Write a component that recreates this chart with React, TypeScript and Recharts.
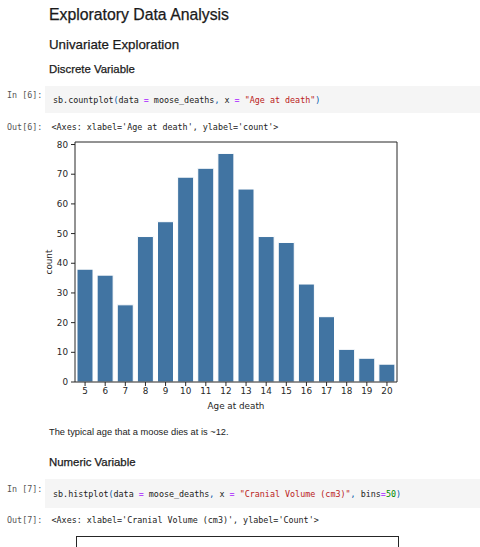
import { BarChart, Bar, XAxis, YAxis, CartesianGrid } from 'recharts';

const ages = ['5', '6', '7', '8', '9', '10', '11', '12', '13', '14', '15', '16', '17', '18', '19', '20'];
const counts = [38, 36, 26, 49, 54, 69, 72, 77, 65, 49, 47, 33, 22, 11, 8, 6];
const yTicks = [0, 10, 20, 30, 40, 50, 60, 70, 80];

const data = ages.map((age, i) => ({ age, count: counts[i] }));

const sans = '"Liberation Sans", Arial, Helvetica, sans-serif';
const mono = '"DejaVu Sans Mono", "Liberation Mono", monospace';
const mpl = '"DejaVu Sans", sans-serif';
const axisColor = '#262626';

const YLabel = ({ viewBox }: any) => {
    const cx = viewBox.x + 4;
    const cy = viewBox.y + viewBox.height / 2;
    return (
        <text
            x={cx}
            y={cy}
            transform={`rotate(-90, ${cx}, ${cy})`}
            textAnchor="middle"
            dominantBaseline="central"
            fill={axisColor}
            fontSize={8.8}
            fontFamily={mpl}
        >
            count
        </text>
    );
};

const heading = (text: string, top: number, size: number) => (
    <div style={{ position: 'absolute', left: 49, top, fontFamily: sans, fontSize: size, lineHeight: 1, color: '#1a1a1a', WebkitTextStroke: '0.25px #1a1a1a', whiteSpace: 'nowrap' }}>
        {text}
    </div>
);

const prompt = (text: string, top: number) => (
    <div style={{ position: 'absolute', left: 7, top, fontFamily: mono, fontSize: 8.4, lineHeight: 1, color: '#555', whiteSpace: 'pre' }}>
        {text}
    </div>
);

const P = ({ c, children }: { c: string, children: any }) => <span style={{ color: c }}>{children}</span>;
const op = '#aa22ff';
const punc = '#0055aa';
const str = '#ba2121';
const num = '#008800';

const App = () => {
    return (
        <div style={{ position: 'absolute', left: 0, top: 0, width: 480, height: 547, overflow: 'hidden', background: '#fff' }}>
            {heading('Exploratory Data Analysis', 7.2, 15.8)}
            {heading('Univariate Exploration', 37.8, 13.3)}
            {heading('Discrete Variable', 64.2, 11.4)}

            <div style={{ position: 'absolute', left: 45, top: 86, width: 440, height: 27, background: '#f5f5f5' }} />
            {prompt('In [6]:', 91)}
            <div style={{ position: 'absolute', left: 53, top: 95.5, fontFamily: mono, fontSize: 8.4, lineHeight: 1, color: '#222', whiteSpace: 'pre' }}>
                sb.countplot<P c={punc}>(</P>data <P c={op}>=</P> moose_deaths<P c={punc}>,</P> x <P c={op}>=</P> <P c={str}>"Age at death"</P><P c={punc}>)</P>
            </div>
            {prompt('Out[6]:', 123.3)}
            <div style={{ position: 'absolute', left: 51.5, top: 123.3, fontFamily: mono, fontSize: 8.4, lineHeight: 1, color: '#222', whiteSpace: 'pre' }}>
                {"<Axes: xlabel='Age at death', ylabel='count'>"}
            </div>

            <div style={{ position: 'absolute', left: 0, top: 130 }}>
                <BarChart width={420} height={290} data={data} margin={{ top: 12, right: 23, left: 45, bottom: 8 }} barCategoryGap="10%">
                    {/* top and right spines */}
                    <CartesianGrid
                        stroke={axisColor}
                        strokeDasharray=""
                        horizontalCoordinatesGenerator={({ offset }: any) => [offset.top]}
                        verticalCoordinatesGenerator={({ offset }: any) => [offset.left + offset.width]}
                    />
                    <XAxis
                        dataKey="age"
                        height={30}
                        tick={{ fill: axisColor, fontSize: 8.8, fontFamily: mpl }}
                        tickSize={4}
                        tickMargin={2}
                        stroke={axisColor}
                        interval={0}
                        label={{ value: 'Age at death', position: 'insideBottom', offset: 3, fill: axisColor, fontSize: 8.8, fontFamily: mpl }}
                    />
                    <YAxis
                        width={30}
                        domain={[0, 80.85]}
                        ticks={yTicks}
                        allowDataOverflow
                        tick={{ fill: axisColor, fontSize: 8.8, fontFamily: mpl }}
                        tickSize={4}
                        tickMargin={3}
                        stroke={axisColor}
                        label={<YLabel />}
                    />
                    <Bar dataKey="count" fill="#4174a2" stroke="#ffffff" strokeWidth={1} isAnimationActive={false} />
                </BarChart>
            </div>

            <div style={{ position: 'absolute', left: 49, top: 428.1, fontFamily: sans, fontSize: 9.3, lineHeight: 1, color: '#222', whiteSpace: 'nowrap' }}>
                The typical age that a moose dies at is ~12.
            </div>
            {heading('Numeric Variable', 457.4, 11.4)}

            <div style={{ position: 'absolute', left: 45, top: 479, width: 440, height: 28.5, background: '#f5f5f5' }} />
            {prompt('In [7]:', 485)}
            <div style={{ position: 'absolute', left: 53, top: 489.5, fontFamily: mono, fontSize: 8.4, lineHeight: 1, color: '#222', whiteSpace: 'pre' }}>
                sb.histplot<P c={punc}>(</P>data <P c={op}>=</P> moose_deaths<P c={punc}>,</P> x <P c={op}>=</P> <P c={str}>"Cranial Volume (cm3)"</P><P c={punc}>,</P> bins<P c={op}>=</P><P c={num}>50</P><P c={punc}>)</P>
            </div>
            {prompt('Out[7]:', 515.7)}
            <div style={{ position: 'absolute', left: 51.5, top: 515.7, fontFamily: mono, fontSize: 8.4, lineHeight: 1, color: '#222', whiteSpace: 'pre' }}>
                {"<Axes: xlabel='Cranial Volume (cm3)', ylabel='Count'>"}
            </div>

            <div style={{ position: 'absolute', left: 75.5, top: 535.5, width: 321, height: 20, borderTop: `1px solid ${axisColor}`, borderLeft: `1px solid ${axisColor}`, borderRight: `1px solid ${axisColor}` }} />
        </div>
    );
};

export default App;
